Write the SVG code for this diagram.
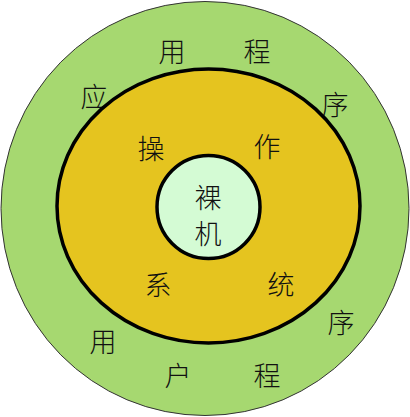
<svg xmlns="http://www.w3.org/2000/svg" width="410" height="417" viewBox="0 0 410 417">
<style>
text{font-family:"Noto Sans CJK SC","Noto Sans",sans-serif;font-size:27px;font-weight:300;fill:#111;text-anchor:middle;dominant-baseline:central}
</style>
<rect width="410" height="417" fill="#fff"/>
<g id="app">
<ellipse cx="205" cy="208.5" rx="204" ry="207" fill="#a6d870" stroke="#333" stroke-width="1"/>
<text x="172" y="50">用</text>
<text x="257" y="50">程</text>
<text x="94" y="95">应</text>
<text x="335" y="103">序</text>
<text x="103" y="340">用</text>
<text x="178" y="374">户</text>
<text x="267" y="374">程</text>
<text x="341" y="321">序</text>
</g>
<g id="os">
<ellipse cx="208.5" cy="206" rx="151.5" ry="137" fill="#e5c41f" stroke="#000" stroke-width="3.5"/>
<text x="151" y="147">操</text>
<text x="267" y="145">作</text>
<text x="158" y="283">系</text>
<text x="281" y="283">统</text>
</g>
<g id="hw">
<circle cx="208.5" cy="207" r="51.5" fill="#d4fbd4" stroke="#000" stroke-width="3.5"/>
<text x="208" y="196">裸</text>
<text x="208" y="232">机</text>
</g>
<g id="connectors"/>
</svg>
